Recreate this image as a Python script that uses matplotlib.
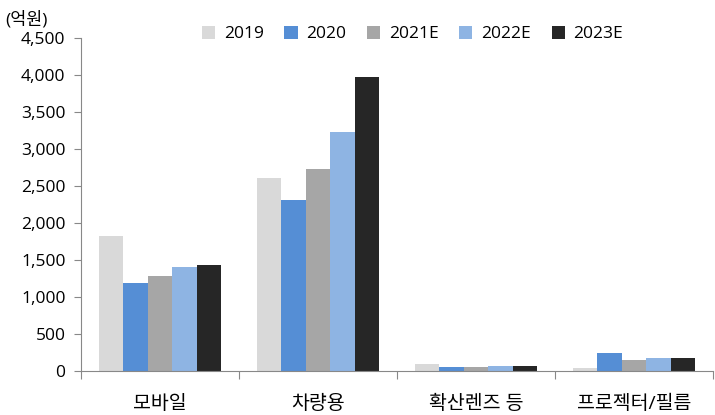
import numpy as np
import matplotlib.pyplot as plt
from matplotlib.ticker import FuncFormatter

plt.rcParams['font.family'] = ['Open Sans', 'Noto Sans CJK KR', 'DejaVu Sans']

categories = ['모바일', '차량용', '확산렌즈 등', '프로젝터/필름']
years = ['2019', '2020', '2021E', '2022E', '2023E']
v2019 = [1830, 2610, 90, 45]
v2020 = [1190, 2310, 48, 250]
v2021 = [1290, 2730, 48, 150]
v2022 = [1410, 3230, 70, 172]
v2023 = [1430, 3970, 70, 172]
colors = ['#D9D9D9', '#558ED5', '#A6A6A6', '#8EB4E3', '#262626']

series = [v2019, v2020, v2021, v2022, v2023]

fig = plt.figure(figsize=(7.15, 4.15), dpi=100)
ax = fig.add_axes([0.113, 0.106, 0.884, 0.802])

x = np.arange(len(categories))
w = 0.155
for i, (vals, c, lab) in enumerate(zip(series, colors, years)):
    ax.bar(x + (i - 2) * w, vals, width=w, color=c, label=lab)

ax.set_xlim(-0.5, 3.5)
ax.set_ylim(0, 4500)
ax.set_yticks(np.arange(0, 4501, 500))
ax.yaxis.set_major_formatter(FuncFormatter(lambda v, p: f'{int(v):,}'))
ax.set_xticks([-0.5, 0.5, 1.5, 2.5, 3.5])
ax.set_xticklabels([])
ax.set_xticks(x, minor=True)
ax.set_xticklabels(categories, minor=True, fontsize=14)
ax.tick_params(axis='x', which='minor', length=0, pad=17)
ax.tick_params(axis='x', which='major', length=6, color='#888888')
ax.tick_params(axis='y', length=5, color='#888888', labelsize=12.5, pad=6)

for s in ['top', 'right']:
    ax.spines[s].set_visible(False)
for s in ['left', 'bottom']:
    ax.spines[s].set_color('#888888')

fig.text(0.007, 0.94, '(억원)', fontsize=12.5)
fig.legend(loc='center', bbox_to_anchor=(0.577, 0.918), ncol=5, frameon=False,
           fontsize=12.5, handlelength=0.75, handleheight=0.75, handletextpad=0.5,
           columnspacing=1.2)

fig.savefig('out.png', dpi=100)
